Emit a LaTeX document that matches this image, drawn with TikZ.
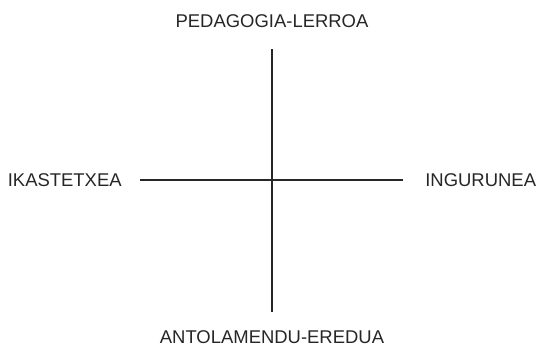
\documentclass[tikz,border=0pt]{standalone}
\usepackage{fontspec}
\setmainfont{Liberation Sans}
\usepackage{tikz}
\usetikzlibrary{positioning}

\begin{document}
\begin{tikzpicture}[
    lbl/.style={inner sep=0pt, font=\fontsize{10.5}{12}\selectfont, text=black!85},
    axis/.style={line width=0.6pt, black!85}
]
\useasboundingbox (-5.44,-3.44) rectangle (5.30,3.60);
\coordinate (n) at (0,2.62);
\coordinate (s) at (0,-2.64);
\coordinate (w) at (-2.64,0);
\coordinate (e) at (2.62,0);

\node[lbl] (ped) at (0,3.18) {PEDAGOGIA-LERROA};
\node[lbl] (ant) at (0,-3.15) {ANTOLAMENDU-EREDUA};
\node[lbl, anchor=east] (ika) at (-3.0,0) {IKASTETXEA};
\node[lbl, anchor=west] (ing) at (3.06,0) {INGURUNEA};

\draw[axis] (n) -- (s);
\draw[axis] (w) -- (e);
\end{tikzpicture}
\end{document}
